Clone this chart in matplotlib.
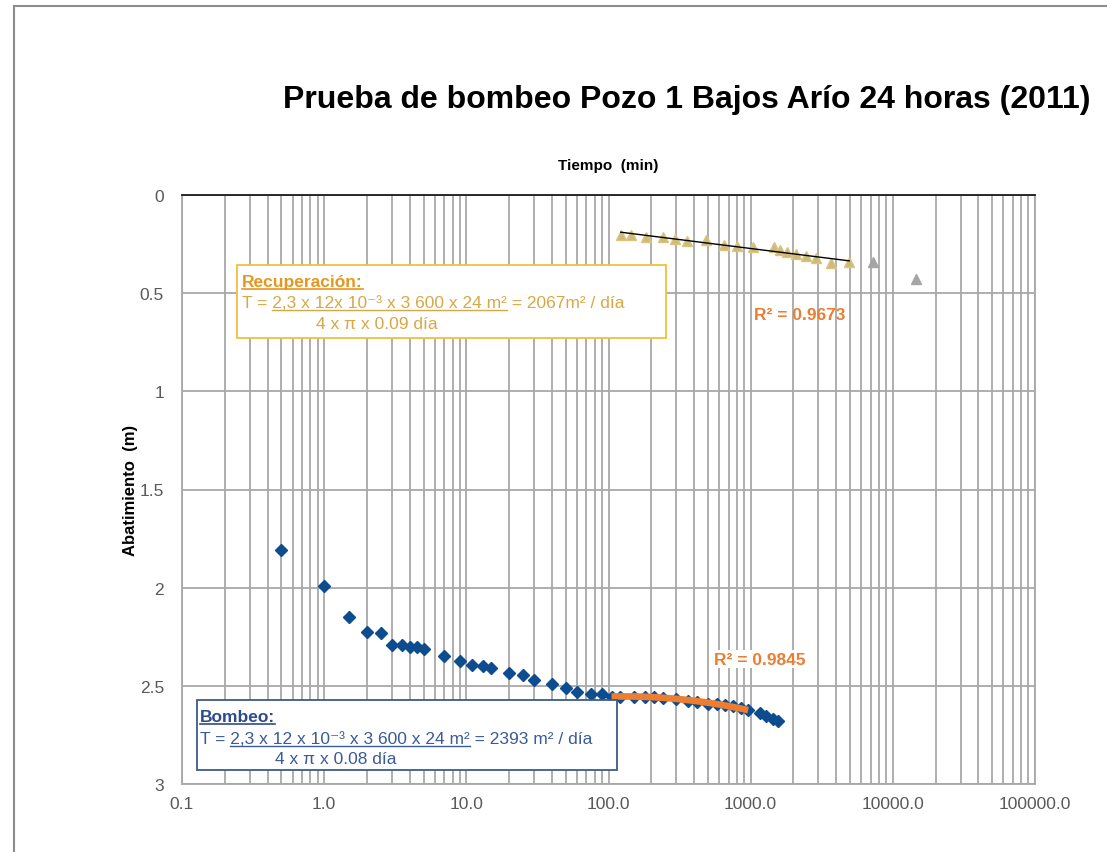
import numpy as np
import matplotlib
matplotlib.use('Agg')
import matplotlib.pyplot as plt
from matplotlib.patches import Rectangle
from matplotlib.lines import Line2D
from matplotlib.ticker import FixedLocator, LogLocator, NullFormatter

plt.rcParams['font.family'] = ['Liberation Sans', 'DejaVu Sans']

# ---------------- data ----------------
t_bombeo = [0.5, 1, 1.5, 2, 2.5, 3, 3.5, 4, 4.5, 5, 7, 9, 11, 13, 15,
            20, 25, 30, 40, 50, 60, 75, 90, 105, 120, 150, 180, 210, 240,
            300, 360, 420, 500, 580, 660, 750, 850, 960, 1160, 1290, 1440, 1560]
s_bombeo = [1.81, 1.99, 2.15, 2.225, 2.23, 2.29, 2.29, 2.30, 2.30, 2.31,
            2.35, 2.375, 2.395, 2.40, 2.41, 2.435, 2.445, 2.47, 2.49, 2.51,
            2.53, 2.54, 2.54, 2.555, 2.555, 2.555, 2.555, 2.555, 2.56,
            2.565, 2.575, 2.58, 2.59, 2.59, 2.60, 2.605, 2.615, 2.625,
            2.64, 2.655, 2.67, 2.68]

t_rec = [122, 145, 183, 240, 293, 358, 484, 648, 796, 1031, 1456, 1604,
         1806, 2080, 2445, 2875, 3650, 4935]
s_rec = [0.202, 0.202, 0.212, 0.216, 0.224, 0.233, 0.229, 0.253, 0.258,
         0.267, 0.267, 0.28, 0.292, 0.30, 0.309, 0.321, 0.348, 0.343]

t_rec_excl = [7230, 14500]
s_rec_excl = [0.341, 0.428]

fit_tmin, fit_tmax = 100, 1000

x_ticks = [0.1, 1, 10, 100, 1000, 10000, 100000]
x_tick_labels = ['0.1', '1.0', '10.0', '100.0', '1000.0', '10000.0', '100000.0']
y_ticks = [0, 0.5, 1, 1.5, 2, 2.5, 3]
y_tick_labels = ['0', '0.5', '1', '1.5', '2', '2.5', '3']

title = 'Prueba de bombeo Pozo 1 Bajos Arío 24 horas (2011)'
xlabel = 'Tiempo  (min)'
ylabel = 'Abatimiento  (m)'
r2_rec = 'R² = 0.9673'
r2_bombeo = 'R² = 0.9845'

# ---------------- colours ----------------
BLUE = '#0D4C8F'
ORANGE = '#ED7D31'
TAN = '#CDBB7E'
GRAYTRI = '#A5A5A5'
GRID = '#A8A8A8'
TICKC = '#595959'

W, H = 1107, 853
fig = plt.figure(figsize=(W / 100, H / 100), dpi=100)
fig.patch.set_facecolor('white')

def fx(px):
    return px / W

def fy(py):
    return 1 - py / H

ax = fig.add_axes([fx(182), fy(785), (1035 - 182) / W, (785 - 196) / H])
ax.set_xscale('log')
ax.set_xlim(0.1, 100000)
ax.set_ylim(3, 0)
ax.xaxis.set_major_locator(FixedLocator(x_ticks))
ax.set_xticklabels(x_tick_labels)
ax.xaxis.set_minor_locator(LogLocator(base=10, subs=np.arange(2, 10)))
ax.xaxis.set_minor_formatter(NullFormatter())
ax.set_yticks(y_ticks)
ax.set_yticklabels(y_tick_labels)
ax.tick_params(which='both', length=0, labelsize=12.5, labelcolor=TICKC)
ax.tick_params(axis='x', pad=9)
ax.tick_params(axis='y', pad=13)
ax.grid(True, which='both', axis='x', color=GRID, lw=1.3)
ax.grid(True, which='major', axis='y', color=GRID, lw=1.3)
ax.set_axisbelow(True)
for side in ['left', 'right', 'bottom']:
    ax.spines[side].set_color(GRID)
    ax.spines[side].set_linewidth(1.3)
ax.spines['top'].set_color('#1A1A1A')
ax.spines['top'].set_linewidth(1.3)

ax.set_xlabel(xlabel, fontsize=11, fontweight='bold', labelpad=19)
ax.xaxis.set_label_position('top')
ax.set_ylabel(ylabel, fontsize=12, fontweight='bold', labelpad=1)

# pumping data
tb = np.array(t_bombeo, dtype=float)
sb = np.array(s_bombeo, dtype=float)
ax.plot(tb, sb, ls='none', marker='D', ms=6.4, color=BLUE, zorder=3)

m = (tb >= fit_tmin) & (tb <= fit_tmax)
coef_b = np.polyfit(np.log10(tb[m]), sb[m], 2)
xs_b = np.logspace(np.log10(tb[m].min()), np.log10(tb[m].max()), 100)
ax.plot(xs_b, np.polyval(coef_b, np.log10(xs_b)), color=ORANGE, lw=4.8,
        solid_capstyle='butt', zorder=4)

# recovery data
tr = np.array(t_rec, dtype=float)
sr = np.array(s_rec, dtype=float)
ax.plot(tr, sr, ls='none', marker='^', ms=7, color=TAN, mec='#DCC47A',
        zorder=3)
coef_r = np.polyfit(np.log10(tr), sr, 1)
xs_r = np.logspace(np.log10(tr.min()), np.log10(tr.max()), 50)
ax.plot(xs_r, np.polyval(coef_r, np.log10(xs_r)), color='black', lw=1.0,
        zorder=4)
ax.plot(t_rec_excl, s_rec_excl, ls='none', marker='^', ms=7,
        color=GRAYTRI, zorder=3)

# R^2 labels
ax.text(2218, 0.611, r2_rec, color=ORANGE, fontsize=12.5, fontweight='bold',
        ha='center', va='center', zorder=5)
ax.text(1161, 2.364, r2_bombeo, color=ORANGE, fontsize=12.5,
        fontweight='bold', ha='center', va='center', zorder=5,
        bbox=dict(facecolor='white', edgecolor='none', pad=1))

# title
fig.text(fx(687), fy(100), title, fontsize=23, fontweight='bold',
         ha='center', va='center')

# outer border
fig.patches.append(Rectangle((fx(14), -0.1), 1.2, fy(7) + 0.1,
                             transform=fig.transFigure, fill=False,
                             ec='#8C8C8C', lw=1.5, zorder=0))

renderer = fig.canvas.get_renderer()

def text_width(s, size, weight='normal'):
    t = fig.text(0, 0, s, fontsize=size, fontweight=weight)
    w = t.get_window_extent(renderer).width
    t.remove()
    return w

def underline(x0, x1, ybase, color, lw=1.0):
    fig.add_artist(Line2D([fx(x0), fx(x1)], [fy(ybase), fy(ybase)],
                          transform=fig.transFigure, color=color, lw=lw,
                          zorder=6))

def formula_box(box, head, head_color, body_color, edge_color,
                prefix, under, rest, line2, x_text, y_head, y1, y2, x_line2,
                size=12.5):
    bx0, by0, bx1, by1 = box
    fig.patches.append(Rectangle((fx(bx0), fy(by1)), (bx1 - bx0) / W,
                                 (by1 - by0) / H, transform=fig.transFigure,
                                 facecolor='white', ec=edge_color, lw=1.3,
                                 zorder=5))
    fig.text(fx(x_text), fy(y_head), head, color=head_color, fontsize=size,
             fontweight='bold', ha='left', va='baseline', zorder=6)
    wh = text_width(head, size, 'bold')
    underline(x_text, x_text + wh, y_head + 2.5, head_color, 1.2)
    fig.text(fx(x_text), fy(y1), prefix + under + rest, color=body_color,
             fontsize=size, ha='left', va='baseline', zorder=6)
    w_all = text_width(prefix + under, size)
    w_u = text_width(under, size)
    underline(x_text + w_all - w_u, x_text + w_all, y1 + 2.5, body_color, 1.0)
    fig.text(fx(x_line2), fy(y2), line2, color=body_color, fontsize=size,
             ha='left', va='baseline', zorder=6)

formula_box((237, 266, 666, 339), 'Recuperación:', '#E8961E', '#D6A846',
            '#F2BE3C', 'T = ', '2,3 x 12x 10⁻³ x 3 600 x 24 m²',
            ' = 2067m² / día', '4 x π x 0.09 día',
            242, 287, 308, 329, 316)

formula_box((197, 701, 617, 771), 'Bombeo:', '#2E4C8C', '#3B5A98',
            '#3D5A8A', 'T = ', '2,3 x 12 x 10⁻³ x 3 600 x 24 m²',
            ' = 2393 m² / día', '4 x π x 0.08 día',
            200, 722, 744, 764, 275)

fig.savefig('out.png', dpi=100, facecolor='white')
